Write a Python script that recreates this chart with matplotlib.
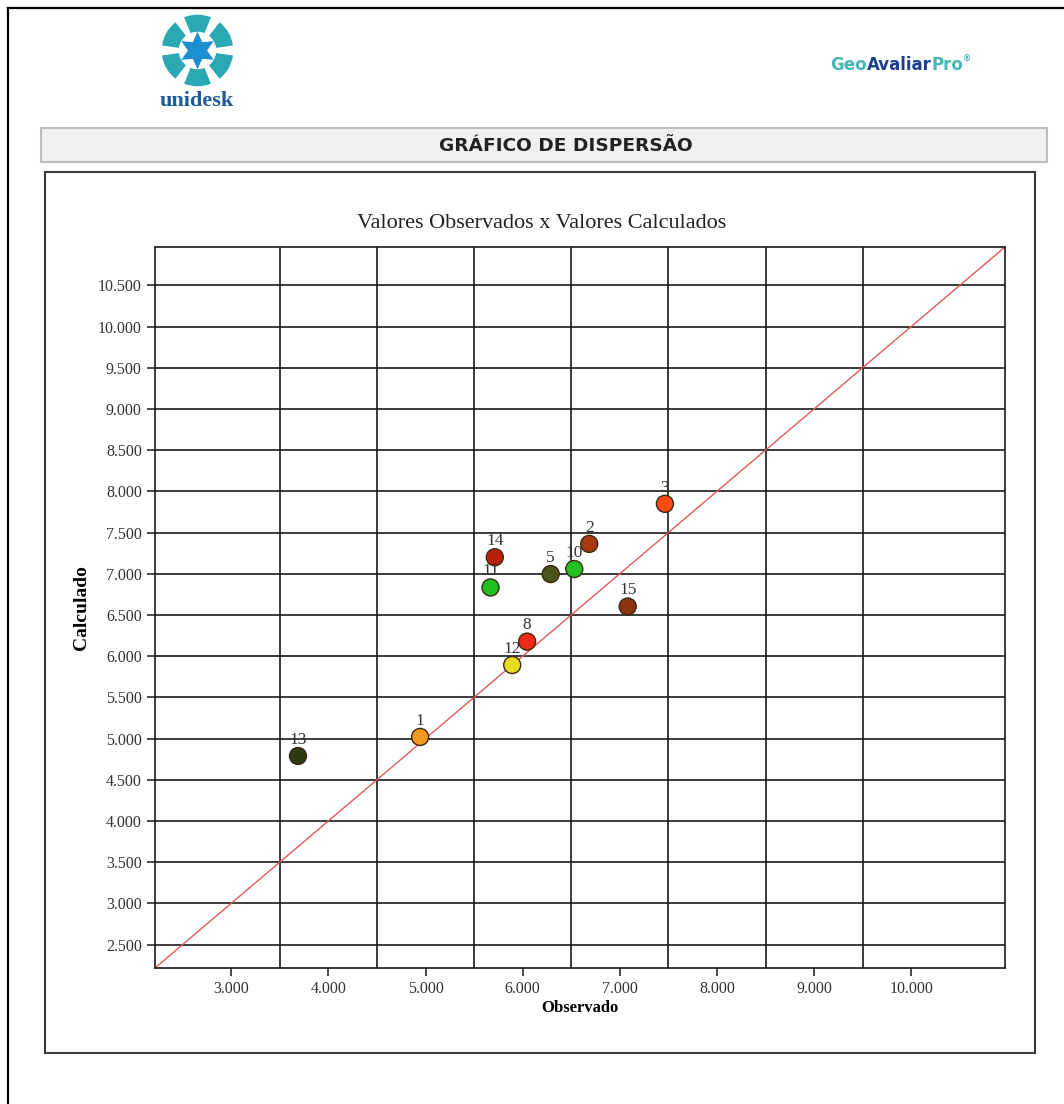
import numpy as np
import matplotlib
matplotlib.use('Agg')
import matplotlib.pyplot as plt
from matplotlib.patches import Rectangle, Wedge, Polygon
from matplotlib.ticker import FuncFormatter, FixedLocator

# dados
ids = [1, 2, 3, 5, 8, 10, 11, 12, 13, 14, 15]
observado = [4944, 6685, 7464, 6288, 6046, 6531, 5669, 5892, 3687, 5713, 7081]
calculado = [5019, 7362, 7848, 6996, 6176, 7057, 6833, 5892, 4788, 7200, 6602]
cores = ['#f39a1e', '#a8380e', '#fb4a12', '#4b5418', '#ee2a16', '#22c022',
         '#1fbf1f', '#e6dc22', '#2e3a12', '#b8200e', '#8c3510']

x_ticks = [3000, 4000, 5000, 6000, 7000, 8000, 9000, 10000]
x_grid = [3500, 4500, 5500, 6500, 7500, 8500, 9500]
y_ticks = [2500, 3000, 3500, 4000, 4500, 5000, 5500, 6000, 6500, 7000,
           7500, 8000, 8500, 9000, 9500, 10000, 10500]
lim = (2215, 10965)

W, H = 1064, 1104
fig = plt.figure(figsize=(W / 100, H / 100), dpi=100)

# fundo em coordenadas de pixel
bg = fig.add_axes([0, 0, 1, 1])
bg.set_xlim(0, W)
bg.set_ylim(H, 0)
bg.axis('off')

# borda da pagina (so topo e esquerda visiveis)
bg.plot([8, W], [8, 8], color='black', lw=1.6)
bg.plot([8, 8], [8, H], color='black', lw=1.6)

# faixa do titulo
bg.add_patch(Rectangle((41, 128), 1006, 34, facecolor='#f0f0f0',
                       edgecolor='#bdbdbd', lw=1.5))
bg.text(566, 146, 'GRÁFICO DE DISPERSÃO', ha='center', va='center',
        fontsize=13.3, fontweight='bold', color='#222222', family='DejaVu Sans')

# caixa do grafico
bg.add_patch(Rectangle((45, 172), 990, 881, facecolor='white',
                       edgecolor='#3a3a3a', lw=1.5))

# GeoAvaliarPro
t1 = bg.text(830, 70, 'Geo', fontsize=12, fontweight='bold',
             color='#45b6b3', va='baseline', ha='left')
t2 = bg.annotate('Avaliar', xy=(1, 0), xycoords=t1, fontsize=12,
                 fontweight='bold', color='#1b3f8f', va='bottom', ha='left')
t3 = bg.annotate('Pro', xy=(1, 0), xycoords=t2, fontsize=12,
                 fontweight='bold', color='#45b6b3', va='bottom', ha='left')
bg.annotate('®', xy=(1, 0.55), xycoords=t3, fontsize=6,
            fontweight='bold', color='#45b6b3', va='bottom', ha='left')

# logo unidesk
lg = fig.add_axes([160 / W, 1 - 88 / H, 75 / W, 75 / H])
lg.set_xlim(-1.1, 1.1)
lg.set_ylim(-1.1, 1.1)
lg.set_aspect('equal')
lg.axis('off')
for ang in [90, 30, -30, -90, -150, 150]:
    lg.add_patch(Wedge((0, 0), 1.05, ang - 22, ang + 22, width=0.5,
                       facecolor='#2aa8b3', edgecolor='none'))
pts = []
for k in range(12):
    a = np.pi / 2 + k * np.pi / 6
    r = 0.55 if k % 2 == 0 else 0.28
    pts.append((r * np.cos(a), r * np.sin(a)))
lg.add_patch(Polygon(pts, closed=True, facecolor='#1b8fd0', edgecolor='none'))
bg.text(197, 101, 'unidesk', ha='center', va='center', fontsize=16,
        fontweight='bold', color='#1e5b99', family='Liberation Serif')

# grafico principal
ax = fig.add_axes([155 / W, 1 - 968 / H, 850 / W, 721 / H])
ax.set_xlim(lim)
ax.set_ylim(lim)

for xv in x_grid:
    ax.axvline(xv, color='#1a1a1a', lw=1.2, zorder=1)
for yv in y_ticks:
    ax.axhline(yv, color='#1a1a1a', lw=1.2, zorder=1)

ax.plot(lim, lim, color='#e05a5a', lw=1.0, zorder=2)

ax.scatter(observado, calculado, s=150, c=cores, edgecolors='#3a2a12',
           linewidths=1.0, zorder=3)
for i, xo, yc in zip(ids, observado, calculado):
    ax.annotate(str(i), (xo, yc), xytext=(0, 6), textcoords='offset points',
                ha='center', va='bottom', fontsize=12.5, color='#333333',
                family='Liberation Serif', zorder=4)

fmt = FuncFormatter(lambda v, p: f'{int(v):,}'.replace(',', '.'))
ax.xaxis.set_major_locator(FixedLocator(x_ticks))
ax.yaxis.set_major_locator(FixedLocator(y_ticks))
ax.xaxis.set_major_formatter(fmt)
ax.yaxis.set_major_formatter(fmt)
ax.tick_params(axis='both', direction='out', length=6, width=1.1,
               color='#1a1a1a', labelsize=11.5, labelcolor='#333333')
for lab in ax.get_xticklabels() + ax.get_yticklabels():
    lab.set_family('Liberation Serif')

for sp in ax.spines.values():
    sp.set_color('#1a1a1a')
    sp.set_linewidth(1.2)

bg.text(542, 224, 'Valores Observados x Valores Calculados', ha='center',
        va='center', fontsize=16, family='Liberation Serif', color='#222222')
ax.set_xlabel('Observado', fontsize=12, fontweight='bold',
              family='Liberation Serif', labelpad=2)
ax.set_ylabel('Calculado', fontsize=14, fontweight='bold',
              family='Liberation Serif', labelpad=6)

fig.savefig('out.png', dpi=100)
